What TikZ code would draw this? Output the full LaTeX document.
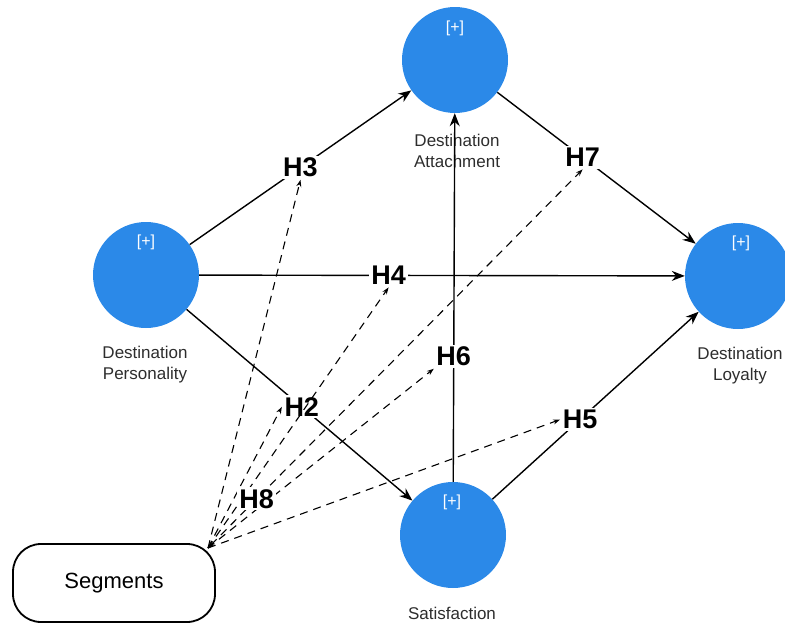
\documentclass[tikz,border=0pt]{standalone}
\usepackage{fontspec}
\setmainfont{Liberation Sans}
\usetikzlibrary{arrows.meta}
\definecolor{nodeblue}{RGB}{43,137,232}
\definecolor{captext}{RGB}{45,45,45}
\begin{document}
\begin{tikzpicture}[x=1pt,y=-1pt,
  latent/.style={circle,fill=nodeblue,minimum size=106pt,inner sep=0pt},
  plus/.style={text=white,font=\fontsize{16}{16}\selectfont},
  captext/.style={align=center,text=captext,font=\fontsize{17}{21}\selectfont},
  hyp/.style={font=\bfseries\fontsize{27}{27}\selectfont,fill=white,inner sep=2pt},
  sol/.style={line width=1.4pt,-{Stealth[length=13pt,width=10pt]}},
  dsh/.style={line width=1.1pt,dash pattern=on 8pt off 6pt,-{Stealth[length=7pt,width=5pt]}},
  segbox/.style={draw,line width=1.8pt,rounded corners=28pt,minimum width=202pt,minimum height=78pt,font=\fontsize{22}{22}\selectfont}
]
\useasboundingbox (0,0) rectangle (785,624);

% latent variables
\node[latent] (att) at (455,60) {};
\node[plus] (attp) at (455,28) {[+]};
\node[captext] (attl) at (457,151) {Destination\\Attachment};

\node[latent] (pers) at (146,275) {};
\node[plus] (persp) at (146,242) {[+]};
\node[captext] (persl) at (145,365) {Destination\\Personality};

\node[latent] (loy) at (738,276) {};
\node[plus] (loyp) at (741,243) {[+]};
\node[captext] (loyl) at (740,366) {Destination\\Loyalty};

\node[latent] (sat) at (453,535) {};
\node[plus] (satp) at (452,502) {[+]};
\node[captext] (satl) at (452,613) {Satisfaction};

\node[segbox] (seg) at (114,583) {Segments};
\coordinate (sc) at (208,548);

% structural paths
\draw[sol] (pers) -- node[hyp,pos=0.5] (H3) {H3} (att);
\draw[sol] (pers) -- node[hyp,pos=0.39] (H4) {H4} (loy);
\draw[sol] (pers) -- node[hyp,pos=0.51] (H2) {H2} (sat);
\draw[sol] (sat) -- node[hyp,pos=0.34] (H6) {H6} (att);
\draw[sol] (att) -- node[hyp,pos=0.43] (H7) {H7} (loy);
\draw[sol] (sat) -- node[hyp,pos=0.425] (H5) {H5} (loy);

% moderation paths
\draw[dsh] (sc) -- (H3.south);
\draw[dsh] (sc) -- (H4.south);
\draw[dsh] (sc) -- (H6.south west);
\draw[dsh] (sc) -- (H2.west);
\draw[dsh] (sc) -- (H5.west);
\draw[dsh,{Stealth[length=7pt,width=5pt]}-{Stealth[length=7pt,width=5pt]}] (sc) -- node[hyp,pos=0.13] (H8) {H8} (H7.south);
\end{tikzpicture}
\end{document}
